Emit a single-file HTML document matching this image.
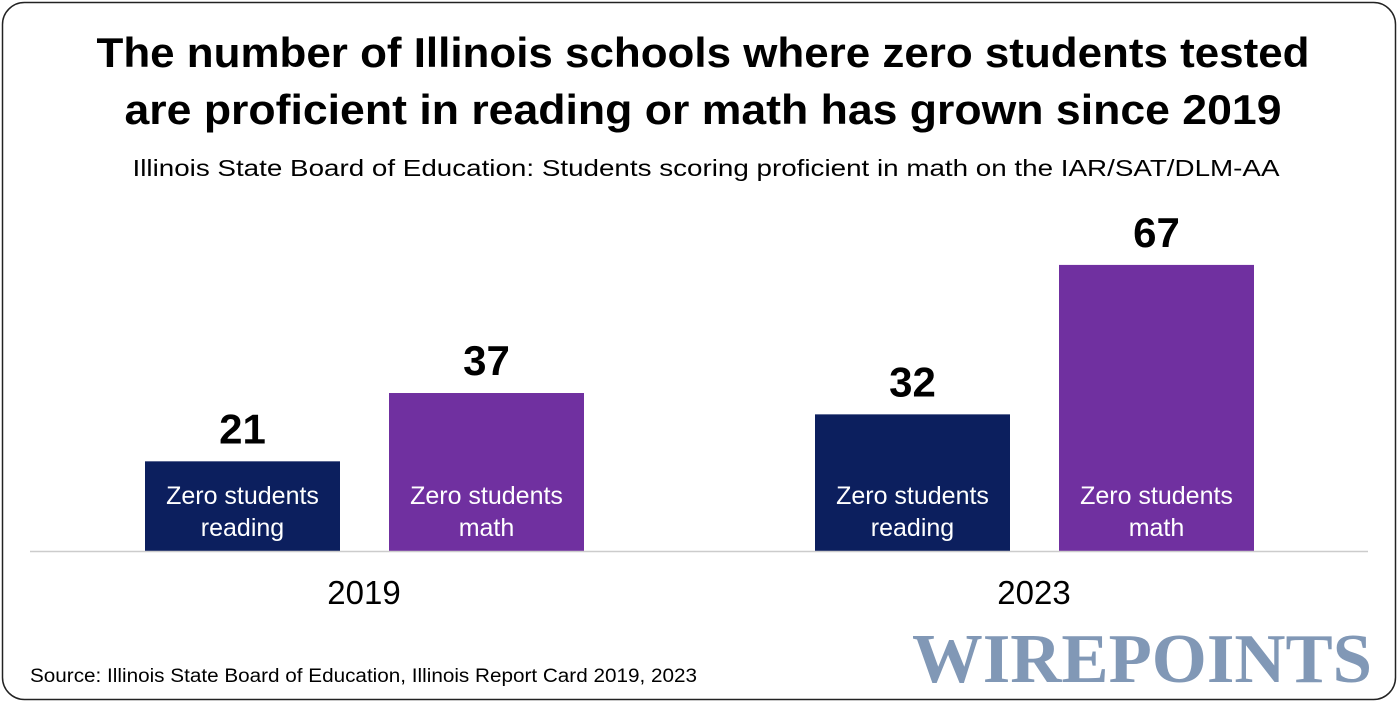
<!DOCTYPE html>
<html><head><meta charset="utf-8"><style>
html,body{margin:0;padding:0;background:#fff;}
svg{display:block;font-family:"Liberation Sans",sans-serif;}
</style></head><body>
<svg width="1400" height="704" viewBox="0 0 1400 704" id="chart">
<rect x="2.5" y="2.5" width="1393" height="697" rx="22" fill="#fff" stroke="#222" stroke-width="1.5"/>
<text x="703" y="67" text-anchor="middle" font-size="42" font-weight="bold" fill="#000" textLength="1213" lengthAdjust="spacingAndGlyphs">The number of Illinois schools where zero students tested</text>
<text x="703" y="124" text-anchor="middle" font-size="42" font-weight="bold" fill="#000" textLength="1157" lengthAdjust="spacingAndGlyphs">are proficient in reading or math has grown since 2019</text>
<text x="706" y="176" text-anchor="middle" font-size="23" fill="#000" textLength="1147" lengthAdjust="spacingAndGlyphs">Illinois State Board of Education: Students scoring proficient in math on the IAR/SAT/DLM-AA</text>
<g id="bars"></g>
<line x1="30" y1="551.5" x2="1368" y2="551.5" stroke="#ccc" stroke-width="1.5"/>
<text x="30" y="682" font-size="19" fill="#000" textLength="667" lengthAdjust="spacingAndGlyphs">Source: Illinois State Board of Education, Illinois Report Card 2019, 2023</text>
<text x="1142" y="682" text-anchor="middle" font-family="Liberation Serif,serif" font-weight="bold" font-size="70" fill="#8198b6" textLength="460" lengthAdjust="spacingAndGlyphs">WIREPOINTS</text>
</svg>
<script>
const years = ["2019", "2023"];
const readingValues = [21, 32];
const mathValues = [37, 67];
const seriesLabels = [["Zero students", "reading"], ["Zero students", "math"]];
const NS = "http://www.w3.org/2000/svg";
const baseY = 551;
const pxPerUnit = 4.27;
const y = v => baseY - v * pxPerUnit;
const groupX = i => 145 + i * 670;
const barW = 195;
const colors = ["#0c1f5e", "#7030a0"];
const g = document.getElementById("bars");
function mk(tag, attrs, txt) {
  const e = document.createElementNS(NS, tag);
  for (const k in attrs) e.setAttribute(k, attrs[k]);
  if (txt !== undefined) e.textContent = txt;
  g.appendChild(e);
  return e;
}
years.forEach((yr, i) => {
  [readingValues[i], mathValues[i]].forEach((v, s) => {
    const x = groupX(i) + s * 244;
    const r = mk("rect", {x: x, y: y(v), width: barW, height: baseY - y(v), fill: colors[s]});
    
    
    const t = mk("text", {x: x + barW / 2, y: y(v) - 18, "text-anchor": "middle", "font-size": "42", "font-weight": "bold", fill: "#000"}, String(v));
    
    
    seriesLabels[s].forEach((ln, k) => {
      const l = mk("text", {x: x + barW / 2, y: 504 + k * 32, "text-anchor": "middle", "font-size": "25", fill: "#fff"}, ln);
      
      
    });
  });
  const yl = mk("text", {x: groupX(i) + 219, y: 604, "text-anchor": "middle", "font-size": "33", fill: "#000"}, yr);
  
  
});
</script>
</body></html>
